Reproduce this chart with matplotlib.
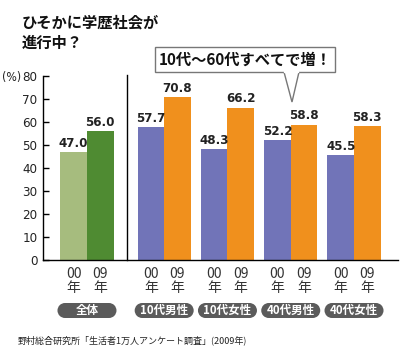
import numpy as np
import matplotlib
matplotlib.use("Agg")
import matplotlib.pyplot as plt
from matplotlib.patches import Rectangle, Polygon, Ellipse

plt.rcParams['font.family'] = ['Noto Sans CJK JP', 'DejaVu Sans']

# ---- data ----
groups = ["全体", "10代男性", "10代女性", "40代男性", "40代女性"]
values_00 = [47.0, 57.7, 48.3, 52.2, 45.5]
values_09 = [56.0, 70.8, 66.2, 58.8, 58.3]
year_labels = ["00\n年", "09\n年"]
yticks = [0, 10, 20, 30, 40, 50, 60, 70, 80]
title = "ひそかに学歴社会が\n進行中？"
callout = "10代～60代すべてで増！"
source = "野村総合研究所「生活者1万人アンケート調査」(2009年)"

c00 = ["#a6bc7e", "#7174b8", "#7174b8", "#7174b8", "#7174b8"]
c09 = ["#4f8b32", "#f0901d", "#f0901d", "#f0901d", "#f0901d"]

W, H = 400, 361
fig = plt.figure(figsize=(W / 100, H / 100), dpi=100)
fig.patch.set_facecolor("white")

ax = fig.add_axes([43 / W, (H - 260) / H, (398 - 43) / W, 184 / H])
ov = fig.add_axes([0, 0, 1, 1], zorder=-1)
ov.set_xlim(0, W)
ov.set_ylim(H, 0)
ov.axis("off")

x = np.arange(len(groups)) + (np.arange(len(groups)) > 0) * 0.22
bw = 0.42
ax.bar(x - bw / 2, values_00, width=bw, color=c00, linewidth=0)
ax.bar(x + bw / 2, values_09, width=bw, color=c09, linewidth=0)

numfont = dict(family='DejaVu Sans', fontstretch='condensed', fontweight='bold', fontsize=9.5)
for xi, v in zip(x - bw / 2, values_00):
    ax.text(xi, v + 1.0, f"{v:.1f}", ha='center', va='bottom', color='#222222', **numfont)
for xi, v in zip(x + bw / 2, values_09):
    ax.text(xi, v + 1.0, f"{v:.1f}", ha='center', va='bottom', color='#222222', **numfont)

ax.set_xlim(-0.695, 4.915)
ax.set_ylim(0, 80)
ax.set_yticks(yticks)
ax.set_yticklabels([str(t) for t in yticks], family='DejaVu Sans', fontstretch='condensed',
                   fontsize=9.5, color='#222222')
ax.tick_params(axis='y', direction='in', length=4, width=1, pad=4)
ax.set_xticks([])
for s in ["top", "right"]:
    ax.spines[s].set_visible(False)
ax.spines["left"].set_linewidth(1.0)
ax.spines["bottom"].set_linewidth(1.0)
ax.patch.set_alpha(0)

# divider
ax.plot([0.632, 0.632], [0, 80.5], color='black', lw=1.0, clip_on=False)

# (%)
ov.text(2, 77, "(%)", ha='left', va='center', fontsize=8.8, color='#222222',
        family='DejaVu Sans', fontstretch='condensed')

# title
ov.text(22, 33, title, ha='left', va='center', fontsize=11, fontweight='bold',
        color='#111111', linespacing=1.35)

def px(xd):
    return ax.transData.transform((xd, 0))[0]

# year labels and group pills
pill = '#5b5b5b'
for xi, g in zip(x, groups):
    for off, yl in zip([-bw / 2, bw / 2], year_labels):
        ov.text(px(xi + off), 281, yl, ha='center', va='center', fontsize=10,
                color='#333333', linespacing=1.0)
    cx = px(xi)
    pw, ph = 59, 15
    py = 303
    ov.add_patch(Ellipse((cx - pw / 2 + ph / 2, py + ph / 2), ph, ph, facecolor=pill, edgecolor='none'))
    ov.add_patch(Ellipse((cx + pw / 2 - ph / 2, py + ph / 2), ph, ph, facecolor=pill, edgecolor='none'))
    ov.add_patch(Rectangle((cx - pw / 2 + ph / 2, py), pw - ph, ph, facecolor=pill, edgecolor='none'))
    ov.text(cx, py + ph / 2, g, ha='center', va='center', fontsize=8.3, fontweight='bold', color='white')

# callout box
bx0, bx1, by0, by1 = 155, 335, 47, 72
ov.add_patch(Rectangle((bx0, by0), bx1 - bx0, by1 - by0, facecolor='white',
                       edgecolor='#777777', lw=1.0, zorder=5))
tail = [(284, by1), (292, 102), (299, by1)]
ov.add_patch(Polygon(tail, closed=False, facecolor='white', edgecolor='#777777', lw=1.0, zorder=6))
ov.plot([285, 298], [by1, by1], color='white', lw=1.6, zorder=7)
ov.text((bx0 + bx1) / 2, (by0 + by1) / 2 + 0.5, callout, ha='center', va='center',
        fontsize=11, fontweight='bold', color='#111111', zorder=8)

# source
ov.text(18, 340, source, ha='left', va='center', fontsize=6.5, color='#222222')

fig.savefig("out.png", dpi=100, facecolor='white')
